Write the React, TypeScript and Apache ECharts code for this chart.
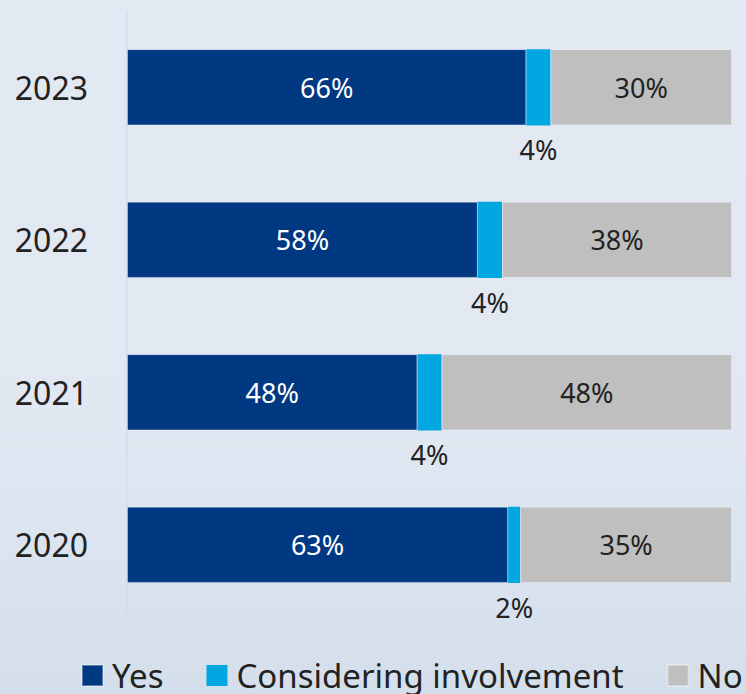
import React, { useEffect, useRef } from "react";
import * as echarts from "echarts";

const years = ["2020", "2021", "2022", "2023"];
const yesValues = [63, 48, 58, 66];
const consideringValues = [2, 4, 4, 4];
const noValues = [35, 48, 38, 30];
const seriesNames = ["Yes", "Considering involvement", "No"];

export default function App() {
  const ref = useRef<HTMLDivElement>(null);
  useEffect(() => {
    document.body.style.margin = "0";
    const chart = echarts.init(ref.current!, null, { renderer: "svg" });
    const font = "Noto Sans";
    chart.setOption({
      animation: false,
      backgroundColor: {
        type: "linear",
        x: 0,
        y: 0,
        x2: 0,
        y2: 1,
        colorStops: [
          { offset: 0, color: "#e3e9f3" },
          { offset: 0.6, color: "#e1e8f2" },
          { offset: 1, color: "#d4dfeb" },
        ],
      },
      textStyle: { fontFamily: font },
      grid: { left: 127, right: 14, top: 11, bottom: 73, containLabel: false },
      xAxis: { type: "value", min: 0, max: 100, show: false },
      yAxis: {
        type: "category",
        data: years,
        axisLine: { show: true, lineStyle: { color: "#d2ddef", width: 1.5 } },
        axisTick: { show: false },
        axisLabel: { fontSize: 32, color: "#222", margin: 39, fontFamily: font },
      },
      legend: {
        left: 81,
        top: 659,
        width: 1000,
        padding: 0,
        itemWidth: 21,
        itemHeight: 21,
        itemGap: 43,
        icon: "rect",
        data: seriesNames,
        textStyle: { fontSize: 33, color: "#222", fontFamily: font, padding: [0, 0, 0, 4] },
      },
      series: [
        {
          name: seriesNames[0],
          type: "bar",
          stack: "total",
          barWidth: "50%",
          data: yesValues,
          itemStyle: { color: "#003882", borderColor: "rgba(255,255,255,0.35)", borderWidth: 1 },
          label: {
            show: true,
            position: "inside",
            formatter: "{c}%",
            color: "#ffffff",
            fontSize: 27,
            fontFamily: font,
          },
        },
        {
          name: seriesNames[1],
          type: "bar",
          stack: "total",
          data: consideringValues,
          itemStyle: { color: "#00a7e1" },
          label: {
            show: true,
            position: "bottom",
            distance: 11,
            formatter: "{c}%",
            color: "#222",
            fontSize: 27,
            fontFamily: font,
          },
        },
        {
          name: seriesNames[2],
          type: "bar",
          stack: "total",
          data: noValues,
          itemStyle: { color: "#bfbfbf", borderColor: "rgba(255,255,255,0.35)", borderWidth: 1 },
          label: {
            show: true,
            position: "inside",
            formatter: "{c}%",
            color: "#222",
            fontSize: 27,
            fontFamily: font,
          },
        },
      ],
    });
    return () => chart.dispose();
  }, []);
  return (
    <div
      ref={ref}
      style={{ position: "absolute", left: 0, top: 0, width: 746, height: 694, overflow: "hidden" }}
    />
  );
}
